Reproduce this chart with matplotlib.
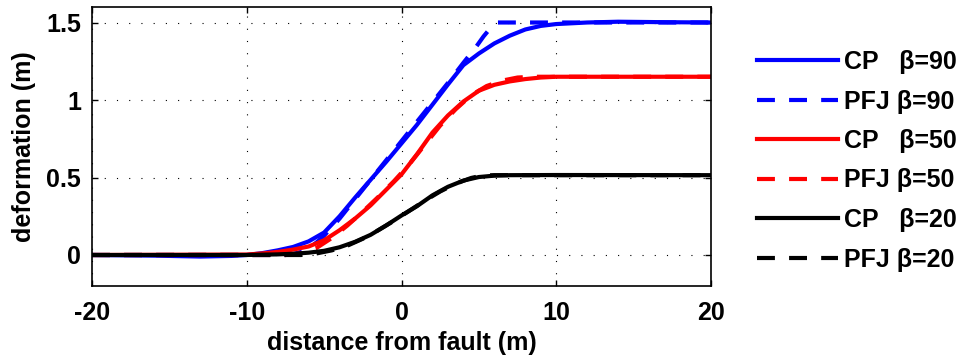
import matplotlib
matplotlib.use('Agg')
import matplotlib.pyplot as plt
import numpy as np

plt.rcParams['font.family'] = ['Liberation Sans', 'DejaVu Sans']
plt.rcParams['font.weight'] = 'bold'
plt.rcParams['axes.unicode_minus'] = False

# CP, beta = 90
cp90_x = [-20, -16, -13, -11, -10, -9, -8, -7, -6, -5, -4, -3, -2, -1, 0, 1, 2, 3, 4, 5, 6, 7, 8, 9, 10, 12, 14, 17, 20]
cp90_y = [0, -0.004, -0.01, -0.006, 0.0, 0.012, 0.03, 0.052, 0.088, 0.145, 0.25, 0.37, 0.485, 0.60, 0.72, 0.84, 0.97, 1.10, 1.225, 1.30, 1.365, 1.415, 1.455, 1.478, 1.49, 1.50, 1.505, 1.502, 1.50]

# PFJ, beta = 90
pfj90_x = [-20, -7.5, -7, -6.5, -6, -5.5, -5, -4, -3, -2, -1, 0, 1, 2, 3, 4, 4.8, 5.3, 5.8, 6.2, 20]
pfj90_y = [0, 0, 0.005, 0.02, 0.045, 0.08, 0.125, 0.235, 0.36, 0.485, 0.61, 0.735, 0.86, 0.985, 1.11, 1.24, 1.34, 1.41, 1.47, 1.50, 1.50]

# CP, beta = 50
cp50_x = [-20, -10, -9, -8, -7, -6, -5, -4, -3, -2, -1, 0, 1, 2, 3, 4, 5, 6, 7, 8, 9, 10, 20]
cp50_y = [0, 0.003, 0.01, 0.02, 0.035, 0.055, 0.095, 0.16, 0.235, 0.32, 0.42, 0.52, 0.65, 0.79, 0.90, 0.99, 1.06, 1.098, 1.12, 1.135, 1.145, 1.15, 1.15]

# PFJ, beta = 50
pfj50_x = [-20, -7.5, -6.5, -5.5, -4.5, -3.5, -2.5, -1.5, -0.5, 0.5, 1.5, 2.5, 3.5, 4.5, 5.5, 6.5, 7.5, 8.5, 20]
pfj50_y = [0, 0, 0.01, 0.045, 0.11, 0.19, 0.28, 0.375, 0.475, 0.585, 0.71, 0.835, 0.94, 1.03, 1.09, 1.125, 1.145, 1.15, 1.15]

# CP, beta = 20
cp20_x = [-20, -10, -9, -8, -7, -6, -5, -4, -3, -2, -1, 0, 1, 2, 3, 4, 5, 6, 7, 10, 20]
cp20_y = [0, 0, 0.002, 0.004, 0.008, 0.015, 0.027, 0.05, 0.085, 0.13, 0.19, 0.255, 0.315, 0.385, 0.44, 0.48, 0.503, 0.512, 0.515, 0.516, 0.515]

# PFJ, beta = 20
pfj20_x = [-20, -6.5, -5.5, -4.5, -3.5, -2.5, -1.5, -0.5, 0.5, 1.5, 2.5, 3.5, 4.5, 5.2, 6, 20]
pfj20_y = [0, 0, 0.01, 0.03, 0.06, 0.105, 0.16, 0.22, 0.285, 0.35, 0.41, 0.46, 0.497, 0.512, 0.515, 0.515]

x_ticks = [-20, -10, 0, 10, 20]
y_ticks = [0, 0.5, 1, 1.5]
y_tick_labels = ['0', '0.5', '1', '1.5']

fig = plt.figure(figsize=(9.6, 3.58), dpi=100)
ax = fig.add_axes([92 / 960, 1 - 286 / 358, (711 - 92) / 960, (286 - 7) / 358])

lw = 3
dash = (0, (4.3, 3.4))
series = [
    (cp90_x, cp90_y, 'blue', '-', 'CP   \u03b2=90'),
    (pfj90_x, pfj90_y, 'blue', dash, 'PFJ \u03b2=90'),
    (cp50_x, cp50_y, 'red', '-', 'CP   \u03b2=50'),
    (pfj50_x, pfj50_y, 'red', dash, 'PFJ \u03b2=50'),
    (cp20_x, cp20_y, 'black', '-', 'CP   \u03b2=20'),
    (pfj20_x, pfj20_y, 'black', dash, 'PFJ \u03b2=20'),
]
for xs, ys, color, ls, label in series:
    ax.plot(xs, ys, color=color, linestyle=ls, linewidth=lw, label=label)

ax.set_xlim(-20, 20)
ax.set_ylim(-0.2, 1.6)
ax.set_xticks(x_ticks)
ax.set_yticks(y_ticks)
ax.set_yticklabels(y_tick_labels)
ax.grid(True, color='black', linestyle=(0, (1, 10)), linewidth=0.8)
ax.tick_params(direction='in', top=True, right=True, length=4, width=1,
               labelsize=18, pad=8)
ax.tick_params(axis='x', pad=11)
for sp in ax.spines.values():
    sp.set_linewidth(1.2)

ax.set_xlabel('distance from fault (m)', fontsize=18, fontweight='bold', labelpad=4)
ax.set_ylabel('deformation (m)', fontsize=18, fontweight='bold', labelpad=7)

fig.legend(loc='upper left', bbox_to_anchor=(757 / 960, 1 - 50 / 358),
           frameon=False, fontsize=18, handlelength=3.25, handletextpad=0.25,
           borderaxespad=0, borderpad=0, labelspacing=0.62)

fig.savefig('out.png', dpi=100)
